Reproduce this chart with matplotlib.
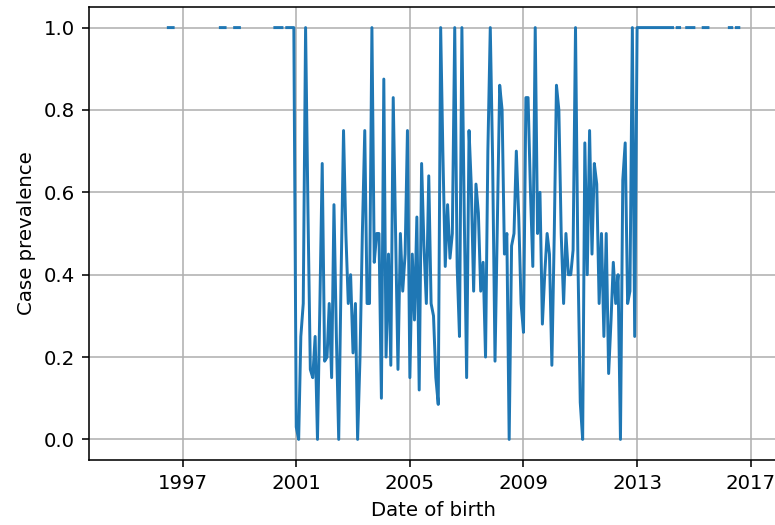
#!/usr/bin/env python3

import sys

import matplotlib
matplotlib.use('Agg')
import matplotlib.dates as mdates
import matplotlib.pyplot as plt
import numpy as np
import pandas as pd

nan = np.nan

# monthly series, first month shown below
first_month = '1996-07-01'

# 1996-07 .. 2000-12 (sparse, only fully-positive months)
early_prevalence = [
    1, 1, 1, nan, nan, nan,
    nan, nan, nan, nan, nan, nan, nan, nan, nan, nan, nan, nan,
    nan, nan, nan, nan, 1, 1, 1, nan, nan, nan, 1, 1,
    1, nan, nan, nan, nan, nan, nan, nan, nan, nan, nan, nan,
    nan, nan, nan, 1, 1, 1, 1, nan, 1, 1, 1, 1,
]

# 2001-01 .. 2012-12
main_prevalence = [
    0.03, 0.0, 0.25, 0.33, 1.0, 0.55, 0.17, 0.15, 0.25, 0.0, 0.33, 0.67,
    0.19, 0.2, 0.33, 0.15, 0.57, 0.25, 0.0, 0.4, 0.75, 0.5, 0.33, 0.4,
    0.21, 0.33, 0.0, 0.2, 0.5, 0.75, 0.33, 0.33, 1.0, 0.43, 0.5, 0.5,
    0.1, 0.875, 0.2, 0.45, 0.18, 0.83, 0.5, 0.17, 0.5, 0.36, 0.45, 0.75,
    0.15, 0.45, 0.29, 0.54, 0.12, 0.67, 0.47, 0.33, 0.64, 0.33, 0.3, 0.15,
    0.085, 1.0, 0.7, 0.42, 0.57, 0.44, 0.5, 1.0, 0.42, 0.25, 1.0, 0.55,
    0.15, 0.75, 0.62, 0.36, 0.62, 0.55, 0.36, 0.43, 0.2, 0.7, 1.0, 0.68,
    0.19, 0.54, 0.86, 0.8, 0.45, 0.5, 0.0, 0.47, 0.5, 0.7, 0.54, 0.33,
    0.26, 0.83, 0.83, 0.6, 0.42, 1.0, 0.5, 0.6, 0.28, 0.4, 0.5, 0.45,
    0.18, 0.5, 0.86, 0.8, 0.5, 0.33, 0.5, 0.4, 0.4, 0.46, 1.0, 0.45,
    0.09, 0.0, 0.72, 0.4, 0.75, 0.45, 0.67, 0.62, 0.33, 0.5, 0.25, 0.5,
    0.16, 0.29, 0.43, 0.33, 0.4, 0.0, 0.63, 0.72, 0.33, 0.36, 1.0, 0.25,
]

# 2013-01 .. 2016-08
late_prevalence = [
    1, 1, 1, 1, 1, 1, 1, 1, 1, 1, 1, 1,
    1, 1, 1, 1, nan, 1, 1, nan, nan, 1, 1, 1,
    1, nan, nan, nan, 1, 1, 1, nan, nan, nan, nan, nan,
    nan, nan, nan, 1, 1, nan, 1, 1,
]

tick_years = [1997, 2001, 2005, 2009, 2013, 2017]
xlim_dates = ('1993-09-15', '2017-12-05')


def plot_prevalence(dates, values, outfn):
    dpi = 142
    fig = plt.figure(figsize=(775 / dpi, 525 / dpi), dpi=dpi)
    ax = fig.add_axes([89 / 775, 65 / 525, 688 / 775, 453 / 525])
    ax.plot(dates, values)
    ax.set_xlim(pd.Timestamp(xlim_dates[0]), pd.Timestamp(xlim_dates[1]))
    ax.set_xticks([pd.Timestamp('%d-01-01' % y) for y in tick_years])
    ax.xaxis.set_major_formatter(mdates.DateFormatter('%Y'))
    ax.set_xlabel('Date of birth')
    ax.set_ylabel('Case prevalence')
    ax.grid()
    fig.savefig(outfn, dpi=dpi)
    plt.close(fig)


def main():
    values = early_prevalence + main_prevalence + late_prevalence
    dates = pd.date_range(first_month, periods=len(values), freq='MS')
    plot_prevalence(dates, values, 'out.png')


if __name__ == '__main__':
    sys.exit(main())
